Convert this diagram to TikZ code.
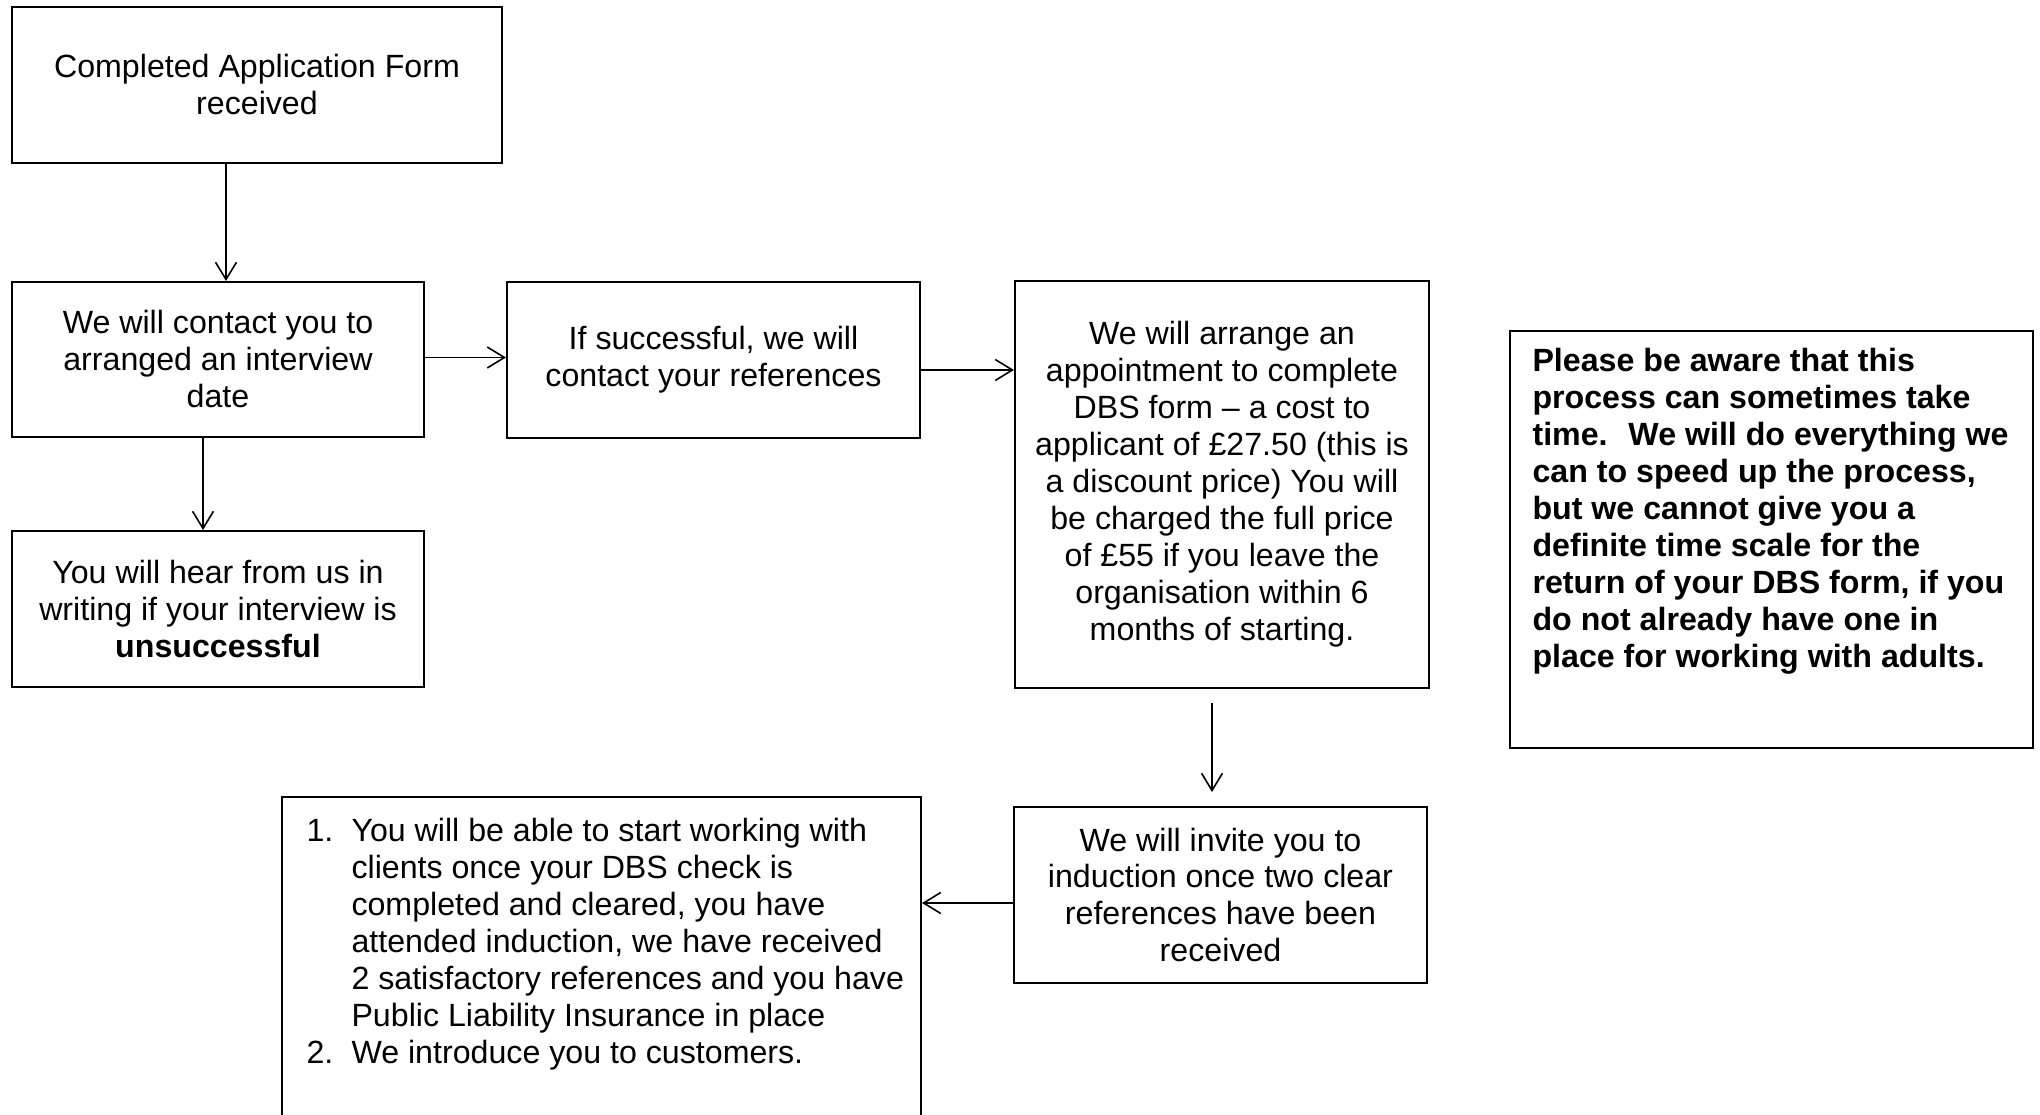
\documentclass[tikz,border=0pt]{standalone}
\usepackage{fontspec}
\setmainfont{Liberation Sans}
\usetikzlibrary{arrows.meta,calc}

\newlength{\pxu}
\setlength{\pxu}{0.3731pt}

\tikzset{
	box/.style={draw, line width=0.75pt, align=center, inner sep=0pt},
	boxtext/.style={inner sep=0pt, align=left, anchor=north west},
	arr/.style={line width=0.6pt, -{Straight Barb[length=6.4pt,width=7.8pt]}}
}

\begin{document}
\begin{tikzpicture}[x=\pxu, y=-\pxu, font=\fontsize{12pt}{13.8pt}\selectfont]
	
	\useasboundingbox (0,0) rectangle (2040,1115);
	
	\node[box, minimum width=490\pxu, minimum height=156\pxu] (form) at (257,85) {Completed Application Form\\received};
	\node[box, minimum width=412\pxu, minimum height=155\pxu] (contact) at (218,359.5) {We will contact you to\\arranged an interview\\date};
	\node[box, minimum width=413\pxu, minimum height=156\pxu] (refs) at (713.5,360) {If successful, we will\\contact your references};
	\node[box, minimum width=414\pxu, minimum height=407\pxu] (dbs) at (1222,484.5) {We will arrange an\\appointment to complete\\DBS form -- a cost to\\applicant of £27.50 (this is\\a discount price) You will\\be charged the full price\\of £55 if you leave the\\organisation within 6\\months of starting.};
	\node[box, minimum width=412\pxu, minimum height=156\pxu] (unsucc) at (218,609) {You will hear from us in\\writing if your interview is\\\textbf{unsuccessful}};
	\node[box, minimum width=413\pxu, minimum height=176\pxu] (induct) at (1220.5,895) {We will invite you to\\induction once two clear\\references have been\\received};
	
	% note on the right, text sits at the top
	\node[box, minimum width=523\pxu, minimum height=417\pxu] (note) at (1771.5,539.5) {};
	\node[boxtext, font=\fontsize{12pt}{13.8pt}\selectfont\bfseries] (notetext) at ($(note.north west)+(23,18)$) {Please be aware that this\\process can sometimes take\\time.~ We will do everything we\\can to speed up the process,\\but we cannot give you a\\definite time scale for the\\return of your DBS form, if you\\do not already have one in\\place for working with adults.};
	
	% last step, box runs off the page
	\node[box, minimum width=639\pxu, minimum height=340\pxu] (start) at (601.5,967) {};
	\node[boxtext] (starttext) at ($(start.north west)+(25,21.5)$) {\makebox[45\pxu][l]{1.}You will be able to start working with\\
		\hspace*{45\pxu}clients once your DBS check is\\
		\hspace*{45\pxu}completed and cleared, you have\\
		\hspace*{45\pxu}attended induction, we have received\\
		\hspace*{45\pxu}2 satisfactory references and you have\\
		\hspace*{45\pxu}Public Liability Insurance in place\\
		\makebox[45\pxu][l]{2.}We introduce you to customers.};
	
	\draw[arr] ($(form.south)+(-31,0)$) -- ($(contact.north)+(8,0)$);
	\draw[arr] ($(contact.south)+(-15,0)$) -- ($(unsucc.north)+(-15,0)$);
	\draw[arr] ($(contact.east)+(0,-2)$) -- ($(contact.east -| refs.west)+(0,-2)$);
	\draw[arr] ($(refs.east)+(0,10)$) -- ($(refs.east -| dbs.west)+(0,10)$);
	\draw[arr] ($(dbs.south)+(-10,14)$) -- ($(induct.north)+(-8.5,-14)$);
	\draw[arr] ($(induct.west)+(0,8)$) -- ($(induct.west -| start.east)+(0,8)$);
	
\end{tikzpicture}
\end{document}
